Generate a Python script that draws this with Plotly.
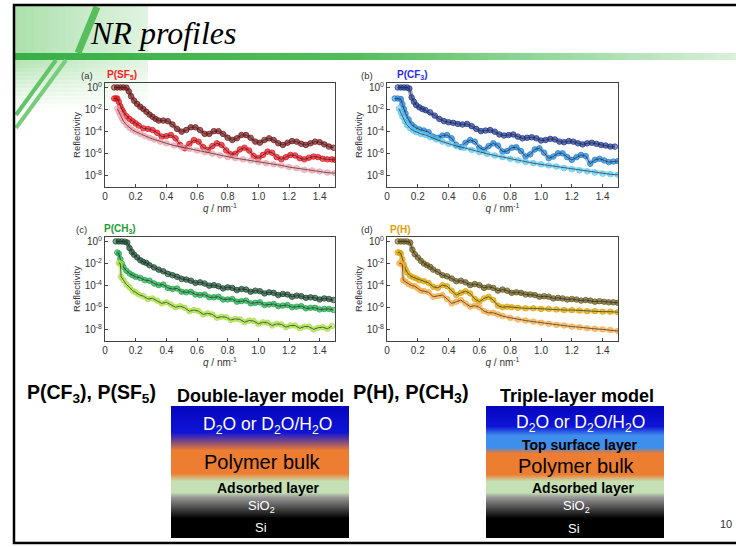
import plotly.graph_objects as go

# ---------------- data: q (nm^-1) and log10(reflectivity) ----------------
# (a) P(SF5)
qA_top = [0.06,0.08,0.10,0.12,0.14,0.155,0.17,0.19,0.21,0.23,0.25,0.27,0.29,0.31,0.33,0.35,
          0.38,0.41,0.44,0.47,0.50,0.53,0.56,0.59,0.62,0.65,0.68,0.71,0.74,0.77,0.80,0.83,0.86,0.89,
          0.92,0.95,0.98,1.01,1.04,1.07,1.10,1.13,1.16,1.19,1.22,1.25,1.28,1.31,1.34,1.37,1.40,1.43,1.46,1.49]
logA_top = [0,0,0,0,-0.02,-0.35,-0.8,-1.2,-1.5,-1.75,-1.95,-2.2,-2.45,-2.65,-2.85,-3.0,
            -3.0,-3.05,-3.35,-3.75,-4.0,-3.85,-3.6,-3.6,-3.85,-4.2,-4.2,-3.95,-3.95,-4.2,-4.55,-4.75,-4.6,-4.3,
            -4.3,-4.55,-4.9,-5.0,-4.75,-4.6,-4.75,-5.05,-5.2,-5.0,-4.85,-4.9,-5.1,-5.2,-5.05,-4.9,-4.95,-5.15,-5.35,-5.45]
qA_mid = [0.06,0.07,0.08,0.09,0.10,0.11,0.12,0.14,0.16,0.18,0.20,0.22,
          0.25,0.28,0.31,0.34,0.37,0.40,0.43,0.46,0.49,0.52,0.55,0.58,0.61,0.64,0.67,0.70,0.73,0.76,0.79,
          0.82,0.85,0.88,0.91,0.94,0.97,1.00,1.03,1.06,1.09,1.12,1.15,1.18,1.21,1.24,1.27,1.30,1.33,1.36,
          1.39,1.42,1.45,1.48,1.50]
logA_mid = [-1.0,-1.0,-1.0,-1.3,-1.7,-2.0,-2.25,-2.6,-2.85,-3.05,-3.25,-3.45,
            -3.7,-3.75,-3.85,-4.1,-4.45,-4.4,-4.3,-4.6,-5.2,-5.5,-5.1,-4.75,-4.9,-5.4,-5.65,-5.3,-5.05,-5.2,-5.7,
            -6.05,-6.0,-5.6,-5.45,-5.7,-6.2,-6.4,-6.1,-5.8,-5.9,-6.3,-6.5,-6.3,-6.1,-6.15,-6.4,-6.5,-6.35,-6.25,
            -6.3,-6.45,-6.5,-6.5,-6.55]
qA_bot = [0.08,0.09,0.10,0.11,0.12,0.14,0.16,0.18,0.20,0.23,0.26,0.29,0.32,0.36,0.40,
          0.45,0.50,0.55,0.60,0.65,0.70,0.75,0.80,0.85,0.90,0.95,1.00,1.05,1.10,1.15,1.20,1.25,1.30,1.35,1.40,1.45,1.50]
logA_bot = [-1.9,-2.2,-2.5,-2.8,-3.05,-3.4,-3.65,-3.85,-4.0,-4.2,-4.4,-4.55,-4.7,-4.9,-5.05,
            -5.25,-5.4,-5.55,-5.7,-5.85,-6.0,-6.15,-6.3,-6.4,-6.5,-6.6,-6.75,-6.85,-6.95,-7.05,-7.2,-7.3,-7.45,-7.5,-7.6,-7.7,-7.75]

# (b) P(CF3)
qB_top = [0.07,0.09,0.11,0.13,0.145,0.16,0.175,0.19,0.21,0.23,0.25,
          0.28,0.31,0.34,0.37,0.40,0.43,0.46,0.49,0.52,0.55,0.58,0.61,0.64,0.67,0.70,0.73,0.76,0.79,0.82,
          0.85,0.88,0.91,0.94,0.97,1.00,1.03,1.06,1.09,1.12,1.15,1.18,1.21,1.24,1.27,1.30,1.33,1.36,1.39,
          1.42,1.45,1.48]
logB_top = [0,0,0,0,-0.1,-0.9,-1.3,-1.6,-1.8,-1.95,-2.05,
            -2.25,-2.55,-2.85,-3.05,-3.15,-3.2,-3.3,-3.35,-3.3,-3.5,-3.75,-3.95,-3.9,-3.85,-4.0,-4.25,-4.35,-4.3,-4.25,
            -4.45,-4.6,-4.55,-4.5,-4.6,-4.8,-4.75,-4.65,-4.7,-4.9,-4.95,-4.85,-4.9,-5.05,-5.15,-5.05,-5.0,-5.1,-5.2,
            -5.25,-5.35,-5.35]
qB_mid = [0.05,0.07,0.09,0.10,0.11,0.12,0.14,0.16,0.18,
          0.21,0.24,0.27,0.30,0.33,0.36,0.39,0.42,0.45,0.48,0.51,0.54,0.57,0.60,0.63,0.66,0.69,0.72,0.75,0.78,
          0.81,0.84,0.87,0.90,0.93,0.96,0.99,1.02,1.05,1.08,1.11,1.14,1.17,1.20,1.23,1.26,1.29,1.32,1.35,1.38,
          1.41,1.44,1.47,1.50]
logB_mid = [-1.0,-1.0,-1.05,-1.5,-1.95,-2.35,-2.9,-3.35,-3.6,
            -3.8,-3.9,-4.05,-4.45,-4.55,-4.35,-4.3,-4.6,-5.2,-5.4,-5.0,-4.75,-4.9,-5.45,-5.65,-5.3,-5.05,-5.25,-5.8,-5.75,
            -5.45,-5.4,-5.75,-6.25,-6.05,-5.6,-5.5,-5.9,-6.4,-6.25,-5.95,-5.95,-6.3,-6.55,-6.3,-6.1,-6.2,-6.9,-6.55,-6.45,
            -6.6,-6.75,-6.7,-6.65]
qB_bot = [0.077,0.09,0.10,0.115,0.13,0.15,0.17,0.19,0.22,0.25,0.28,0.32,0.36,0.40,
          0.45,0.50,0.55,0.60,0.65,0.70,0.75,0.80,0.85,0.90,0.95,1.00,1.05,1.10,1.15,1.20,1.25,1.30,1.35,1.40,1.45,1.50]
logB_bot = [-1.9,-2.3,-2.65,-3.05,-3.4,-3.7,-3.9,-4.05,-4.2,-4.3,-4.5,-4.7,-4.9,-5.1,
            -5.3,-5.45,-5.65,-5.85,-6.0,-6.15,-6.3,-6.45,-6.6,-6.75,-6.85,-6.95,-7.05,-7.15,-7.3,-7.4,-7.5,-7.6,-7.7,-7.8,-7.85,-7.9]

# (c) P(CH3)
qC_top = [0.07,0.09,0.11,0.13,0.145,0.16,0.175,0.19,0.21,0.23,0.25,0.27,0.29,
          0.32,0.35,0.38,0.41,0.44,0.47,0.50,0.53,0.56,0.59,0.62,0.65,0.68,0.71,0.74,0.77,0.80,0.83,0.86,0.89,
          0.92,0.95,0.98,1.01,1.04,1.07,1.10,1.13,1.16,1.19,1.22,1.25,1.28,1.31,1.34,1.37,1.40,1.43,1.46,1.49]
logC_top = [0,0,0,-0.02,-0.1,-0.6,-0.95,-1.2,-1.45,-1.7,-1.85,-1.95,-2.15,
            -2.35,-2.55,-2.7,-2.95,-3.05,-3.2,-3.4,-3.45,-3.55,-3.75,-3.7,-3.8,-4.0,-3.95,-4.05,-4.25,-4.15,-4.2,-4.4,-4.3,
            -4.35,-4.55,-4.45,-4.5,-4.7,-4.6,-4.65,-4.85,-4.75,-4.8,-5.0,-4.9,-4.95,-5.1,-5.05,-5.1,-5.25,-5.15,-5.2,-5.3]
qC_mid = [0.08,0.09,0.10,0.11,0.12,0.14,0.16,0.18,0.20,
          0.23,0.26,0.29,0.32,0.35,0.38,0.41,0.44,0.47,0.50,0.53,0.56,0.59,0.62,0.65,0.68,0.71,0.74,0.77,0.80,
          0.83,0.86,0.89,0.92,0.95,0.98,1.01,1.04,1.07,1.10,1.13,1.16,1.19,1.22,1.25,1.28,1.31,1.34,1.37,1.40,
          1.43,1.46,1.49]
logC_mid = [-1.0,-1.1,-1.6,-2.0,-2.3,-2.65,-2.9,-3.05,-3.2,
            -3.3,-3.5,-3.55,-3.8,-3.95,-3.9,-4.2,-4.3,-4.25,-4.55,-4.6,-4.55,-4.8,-4.85,-4.8,-5.05,-5.05,-5.0,-5.25,-5.25,
            -5.2,-5.45,-5.4,-5.35,-5.6,-5.55,-5.5,-5.75,-5.7,-5.65,-5.85,-5.8,-5.75,-5.95,-5.9,-5.85,-6.05,-6.0,-6.0,-6.15,
            -6.1,-6.1,-6.2]
qC_bot = [0.09,0.10,0.105,0.12,0.14,0.16,0.18,0.20,0.22,
          0.25,0.28,0.31,0.34,0.37,0.40,0.43,0.46,0.49,0.52,0.55,0.58,0.61,0.64,0.67,0.70,0.73,0.76,0.79,0.82,
          0.85,0.88,0.91,0.94,0.97,1.00,1.03,1.06,1.09,1.12,1.15,1.18,1.21,1.24,1.27,1.30,1.33,1.36,1.39,1.42,
          1.45,1.48]
logC_bot = [-1.95,-2.0,-3.2,-3.5,-3.9,-4.15,-4.45,-4.6,-4.8,
            -4.95,-5.2,-5.15,-5.35,-5.6,-5.5,-5.7,-5.95,-5.85,-6.0,-6.3,-6.2,-6.3,-6.6,-6.5,-6.6,-6.9,-6.8,-6.85,-7.1,
            -7.0,-7.05,-7.3,-7.15,-7.2,-7.45,-7.3,-7.35,-7.6,-7.45,-7.5,-7.75,-7.6,-7.6,-7.85,-7.7,-7.7,-7.95,-7.8,-7.75,
            -7.9,-7.65]

# (d) P(H)
qD_top = [0.07,0.09,0.11,0.13,0.15,0.165,0.18,0.20,0.22,0.24,0.26,0.28,0.30,
          0.33,0.36,0.39,0.42,0.45,0.48,0.51,0.54,0.57,0.60,0.63,0.66,0.69,0.72,0.75,0.78,0.81,0.84,0.87,0.90,
          0.93,0.96,0.99,1.02,1.05,1.08,1.11,1.14,1.17,1.20,1.23,1.26,1.29,1.32,1.35,1.38,1.41,1.44,1.47,1.50]
logD_top = [0,0,0,0,-0.1,-0.75,-1.15,-1.45,-1.75,-2.0,-2.15,-2.3,-2.55,
            -2.75,-3.05,-3.15,-3.35,-3.6,-3.55,-3.7,-3.95,-3.85,-3.95,-4.2,-4.1,-4.2,-4.45,-4.35,-4.45,-4.65,-4.6,-4.65,-4.8,
            -4.8,-4.85,-5.0,-4.95,-5.0,-5.15,-5.1,-5.15,-5.25,-5.2,-5.25,-5.35,-5.3,-5.35,-5.45,-5.4,-5.45,-5.5,-5.5,-5.55]
qD_mid = [0.07,0.08,0.09,0.10,0.11,0.12,0.13,0.15,0.17,0.19,0.21,
          0.24,0.27,0.30,0.33,0.36,0.39,0.42,0.45,0.48,0.51,0.54,0.57,0.60,0.63,0.66,0.69,0.72,0.75,0.78,0.81,
          0.85,0.90,0.95,1.00,1.05,1.10,1.15,1.20,1.25,1.30,1.35,1.40,1.45,1.50]
logD_mid = [-1.0,-1.0,-1.1,-1.6,-2.1,-2.5,-2.8,-3.1,-3.25,-3.35,-3.5,
            -3.6,-3.75,-4.1,-4.2,-3.95,-4.05,-4.45,-4.85,-4.65,-4.5,-4.7,-5.2,-5.45,-5.15,-5.0,-5.3,-5.8,-5.95,-5.9,-5.95,
            -6.0,-6.05,-6.05,-6.1,-6.1,-6.15,-6.2,-6.2,-6.25,-6.3,-6.3,-6.35,-6.35,-6.4]
qD_bot = [0.08,0.09,0.10,0.105,0.12,0.14,0.16,0.18,0.20,0.22,0.24,
          0.27,0.30,0.33,0.36,0.39,0.42,0.45,0.48,0.51,0.54,0.57,0.60,0.63,0.66,0.69,0.72,0.75,
          0.80,0.85,0.90,0.95,1.00,1.05,1.10,1.15,1.20,1.25,1.30,1.35,1.40,1.45,1.50]
logD_bot = [-1.97,-2.0,-2.1,-3.5,-3.65,-3.85,-4.0,-4.05,-4.25,-4.45,-4.5,
            -4.6,-5.0,-4.95,-4.85,-5.2,-5.6,-5.45,-5.3,-5.6,-5.9,-5.8,-5.95,-6.3,-6.45,-6.45,-6.6,-6.75,
            -6.9,-7.05,-7.15,-7.25,-7.35,-7.45,-7.55,-7.6,-7.7,-7.75,-7.85,-7.9,-7.95,-8.0,-8.1]

q_ticks = [0, 0.2, 0.4, 0.6, 0.8, 1.0, 1.2, 1.4]
q_ticktext = ["0", "0.2", "0.4", "0.6", "0.8", "1.0", "1.2", "1.4"]
R_ticks = [1, 1e-2, 1e-4, 1e-6, 1e-8]
R_ticktext = ["10<sup>0</sup>", "10<sup>-2</sup>", "10<sup>-4</sup>", "10<sup>-6</sup>", "10<sup>-8</sup>"]

panel_tags = ["(a)", "(b)", "(c)", "(d)"]
panel_names = ["P(SF<sub>5</sub>)", "P(CF<sub>3</sub>)", "P(CH<sub>3</sub>)", "P(H)"]

# ---------------- styling / geometry ----------------
W, H = 736, 547
SANS = "Liberation Sans, Arial, sans-serif"
SERIF = "Liberation Serif, Times New Roman, serif"


def px(x):
    return x / W


def py(y):
    return 1 - y / H


def hex2rgb(h):
    h = h.lstrip('#')
    return tuple(int(h[i:i + 2], 16) for i in (0, 2, 4))


def rgba(h, a):
    r, g, b = hex2rgb(h)
    return f"rgba({r},{g},{b},{a})"


def lerp(c1, c2, t):
    return tuple(round(a + (b - a) * t) for a, b in zip(c1, c2))


def rgbs(c):
    return f"rgb({c[0]},{c[1]},{c[2]})"


panels = [
    ("x", "y", [(qA_top, logA_top, "#7a1a1c"), (qA_mid, logA_mid, "#e8141e"), (qA_bot, logA_bot, "#f2a0aa")]),
    ("x2", "y2", [(qB_top, logB_top, "#1f3a93"), (qB_mid, logB_mid, "#1e7fd6"), (qB_bot, logB_bot, "#58c6f2")]),
    ("x3", "y3", [(qC_top, logC_top, "#1d4d33"), (qC_mid, logC_mid, "#1fa84a"), (qC_bot, logC_bot, "#a6e040")]),
    ("x4", "y4", [(qD_top, logD_top, "#6b5a1e"), (qD_mid, logD_mid, "#d9a400"), (qD_bot, logD_bot, "#f7a840")]),
]
name_colors = ["#ff2020", "#2a2af5", "#20a030", "#e0a000"]

fig = go.Figure()
for xa, ya, series in panels:
    for q, lg, c in series:
        n = min(len(q), len(lg))
        yv = [10 ** v for v in lg[:n]]
        fig.add_trace(go.Scatter(
            x=q[:n], y=yv, xaxis=xa, yaxis=ya, mode="lines+markers",
            line=dict(color=rgba(c, 0.45), width=4.5),
            marker=dict(size=5.5, color=rgba(c, 0.5), line=dict(color=c, width=0.8)),
            hoverinfo="skip", showlegend=False))
        fig.add_trace(go.Scatter(
            x=q[:n], y=yv, xaxis=xa, yaxis=ya, mode="lines",
            line=dict(color="rgba(35,35,35,0.85)", width=0.8),
            hoverinfo="skip", showlegend=False))

col_dom = [[px(105), px(335)], [px(387), px(618)]]
row_dom = [[py(187), py(83)], [py(341), py(237)]]
axis_font = dict(family=SANS, size=10, color="#333")
lay = {}
for i, (c, r) in enumerate([(0, 0), (1, 0), (0, 1), (1, 1)]):
    n = "" if i == 0 else str(i + 1)
    lay["xaxis" + n] = dict(
        domain=col_dom[c], anchor="y" + n, range=[0, 1.5], tickvals=q_ticks, ticktext=q_ticktext,
        ticks="inside", ticklen=3, tickcolor="#444", showline=True, mirror=True, linecolor="#444",
        linewidth=1, showgrid=False, zeroline=False, tickfont=axis_font, automargin=False,
        title=dict(text="<i>q</i> / nm<sup>-1</sup>", font=axis_font, standoff=1))
    lay["yaxis" + n] = dict(
        domain=row_dom[r], anchor="x" + n, type="log", range=[-9, 0.4], tickvals=R_ticks,
        ticktext=R_ticktext, ticks="inside", ticklen=3, tickcolor="#444", showline=True, mirror=True,
        linecolor="#444", linewidth=1, showgrid=False, zeroline=False, tickfont=axis_font,
        automargin=False, title=dict(text="Reflectivity", font=dict(family=SANS, size=9.5, color="#333"), standoff=2))

shapes = []


def rect(x0, y0, x1, y1, color, layer="above"):
    shapes.append(dict(type="rect", xref="paper", yref="paper", x0=px(x0), x1=px(x1), y0=py(y1), y1=py(y0),
                       fillcolor=color, line=dict(width=0), layer=layer))


def vgrad(x0, x1, y0, y1, c1, c2, step=1.0):
    y = y0
    while y < y1:
        t = (y - y0) / max(y1 - y0, 1e-9)
        rect(x0, y, x1, min(y + step + 0.6, y1), rgbs(lerp(c1, c2, t)))
        y += step


def hgrad(x0, x1, y0, y1, c1, c2, step=4.0, layer="below"):
    x = x0
    while x < x1:
        t = (x - x0) / max(x1 - x0, 1e-9)
        rect(x, y0, min(x + step + 0.6, x1), y1, rgbs(lerp(c1, c2, t)), layer=layer)
        x += step


# header decoration (drawn beneath the plot areas)
hgrad(14, 148, 6, 53, (172, 224, 172), (226, 244, 226), step=4)
hgrad(14, 148, 60, 112, (182, 228, 182), (230, 246, 230), step=4)
for k in range(13):
    y0 = 60 + k * 4
    rect(14, y0, 148, y0 + 4.5, f"rgba(255,255,255,{min(1, k / 12):.2f})", layer="below")
hgrad(14, 350, 53, 60, (55, 175, 70), (80, 190, 92), step=6)
hgrad(350, 740, 53, 60, (80, 190, 92), (220, 242, 220), step=6)
for (x0, y0, x1, y1, w, col) in [(97, 7, 78, 53, 7, "rgb(86,190,92)"),
                                 (56, 60, 16, 115, 4, "rgb(98,196,104)"),
                                 (66, 60, 16, 128, 4, "rgb(120,205,124)")]:
    shapes.append(dict(type="line", xref="paper", yref="paper", x0=px(x0), y0=py(y0), x1=px(x1), y1=py(y1),
                       line=dict(color=col, width=w), layer="below"))

BLUE = (5, 5, 190)
BLUE2 = (15, 20, 215)
ORANGE = (237, 125, 49)
LGREEN = (197, 224, 180)
LBLUE = (62, 142, 235)
GRAY = (150, 150, 150)
BLACK = (0, 0, 0)

# double-layer model diagram
dx0, dx1 = 171, 349
vgrad(dx0, dx1, 406, 432, BLUE, BLUE2)
vgrad(dx0, dx1, 432, 450, BLUE2, ORANGE)
vgrad(dx0, dx1, 450, 473, ORANGE, ORANGE, step=23)
vgrad(dx0, dx1, 473, 481, ORANGE, LGREEN)
vgrad(dx0, dx1, 481, 492, LGREEN, LGREEN, step=11)
vgrad(dx0, dx1, 492, 497, LGREEN, GRAY)
vgrad(dx0, dx1, 497, 518, GRAY, BLACK)
rect(dx0, 518, dx1, 538, "black")

# triple-layer model diagram
tx0, tx1 = 486, 664
vgrad(tx0, tx1, 406, 426, BLUE, BLUE2)
vgrad(tx0, tx1, 426, 435, BLUE2, LBLUE)
vgrad(tx0, tx1, 435, 447, LBLUE, LBLUE, step=12)
vgrad(tx0, tx1, 447, 453, LBLUE, ORANGE)
vgrad(tx0, tx1, 453, 474, ORANGE, ORANGE, step=21)
vgrad(tx0, tx1, 474, 481, ORANGE, LGREEN)
vgrad(tx0, tx1, 481, 492, LGREEN, LGREEN, step=11)
vgrad(tx0, tx1, 492, 497, LGREEN, GRAY)
vgrad(tx0, tx1, 497, 518, GRAY, BLACK)
rect(tx0, 518, tx1, 538, "black")

# slide border
shapes.append(dict(type="rect", xref="paper", yref="paper", x0=px(14), x1=px(800), y0=py(543), y1=py(5),
                   line=dict(color="black", width=2.5), fillcolor="rgba(0,0,0,0)"))

ann = []


def txt(x, y, s, size, color="black", bold=False, xanchor="left", family=SANS):
    if bold:
        s = f"<b>{s}</b>"
    ann.append(dict(x=px(x), y=py(y), xref="paper", yref="paper", text=s, showarrow=False,
                    xanchor=xanchor, yanchor="middle", font=dict(size=size, color=color, family=family)))


txt(88, 33, "<i>NR profiles</i>", 32, family=SERIF)

tag_pos = [(87, 75, 105, 75), (367, 75, 395, 75), (81, 229, 102, 229), (367, 229, 388, 229)]
for i, (tx, ty, nx, ny) in enumerate(tag_pos):
    txt(tx, ty, panel_tags[i], 9.5, color="#333", xanchor="center")
    txt(nx, ny, panel_names[i], 10, color=name_colors[i], bold=True)

txt(25, 393, "P(CF<sub>3</sub>), P(SF<sub>5</sub>)", 19.5, bold=True)
txt(175, 396, "Double-layer model", 18, bold=True)
txt(351, 393, "P(H), P(CH<sub>3</sub>)", 20, bold=True)
txt(498, 396, "Triple-layer model", 18, bold=True)

txt(267, 425, "D<sub>2</sub>O or D<sub>2</sub>O/H<sub>2</sub>O", 17.5, color="white", xanchor="center")
txt(262, 462, "Polymer bulk", 20, xanchor="center")
txt(268, 488, "Adsorbed layer", 14, bold=True, xanchor="center")
txt(261, 506, "SiO<sub>2</sub>", 13, color="white", xanchor="center")
txt(261, 527, "Si", 13, color="white", xanchor="center")

txt(580, 423, "D<sub>2</sub>O or D<sub>2</sub>O/H<sub>2</sub>O", 17.5, color="white", xanchor="center")
txt(579, 445, "Top surface layer", 14, bold=True, xanchor="center")
txt(576, 466, "Polymer bulk", 20, xanchor="center")
txt(583, 488, "Adsorbed layer", 14, bold=True, xanchor="center")
txt(576, 506, "SiO<sub>2</sub>", 13, color="white", xanchor="center")
txt(574, 528, "Si", 13, color="white", xanchor="center")

txt(726, 524, "10", 11, color="#333", xanchor="center")

fig.update_layout(width=W, height=H, margin=dict(l=0, r=0, t=0, b=0), paper_bgcolor="white",
                  plot_bgcolor="white", shapes=shapes, annotations=ann, showlegend=False, **lay)
fig.write_html("out.html", config={"displayModeBar": False, "staticPlot": True},
               post_script="document.body.style.margin='0px';document.documentElement.style.overflow='hidden';")
